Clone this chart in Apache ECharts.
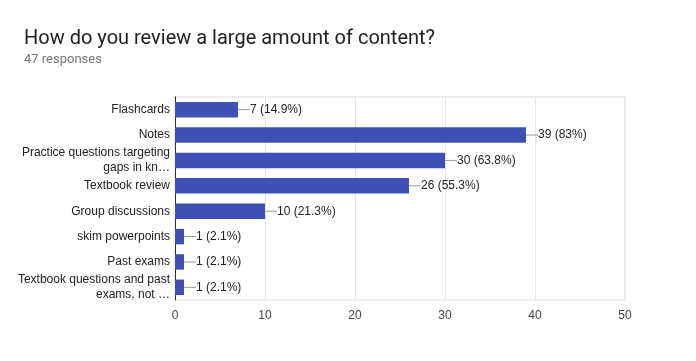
<!DOCTYPE html>
<html><head><meta charset="utf-8">
<script src="https://cdn.jsdelivr.net/npm/echarts@6/dist/echarts.min.js"></script>
<style>html,body{margin:0;padding:0;background:#fff}#c{width:696px;height:361px}</style>
</head><body><div id="c"></div>
<script>
const categories = [
  "Flashcards",
  "Notes",
  "Practice questions targeting\ngaps in kn\u2026",
  "Textbook review",
  "Group discussions",
  "skim powerpoints",
  "Past exams",
  "Textbook questions and past\nexams, not \u2026"
];
const counts = [7, 39, 30, 26, 10, 1, 1, 1];
const percents = ["14.9%", "83%", "63.8%", "55.3%", "21.3%", "2.1%", "2.1%", "2.1%"];
const xTicks = [0, 10, 20, 30, 40, 50];

const chart = echarts.init(document.getElementById('c'));
chart.setOption({
  animation: false,
  title: {
    text: 'How do you review a large amount of content?',
    subtext: '47 responses',
    left: 19, top: 24,
    itemGap: 4,
    textStyle: {fontFamily: 'Roboto', fontSize: 20, fontWeight: 'normal', color: '#212121'},
    subtextStyle: {fontFamily: 'Roboto', fontSize: 13, color: '#757575'}
  },
  grid: {left: 175, right: 71, top: 97, bottom: 61, containLabel: false,
    show: true, borderColor: '#eeeeee', borderWidth: 2},
  xAxis: {
    type: 'value', min: 0, max: 50, interval: 10,
    axisLine: {show: false}, axisTick: {show: false},
    splitLine: {lineStyle: {color: '#e6e6e6', width: 1}},
    axisLabel: {fontFamily: 'Liberation Sans', fontSize: 12, color: '#444', margin: 10,
      formatter: v => xTicks.includes(v) ? String(v) : ''}
  },
  yAxis: {
    type: 'category', data: categories, inverse: true,
    axisLine: {show: true, lineStyle: {color: '#333', width: 1}},
    axisTick: {show: false},
    axisLabel: {fontFamily: 'Liberation Sans', fontSize: 12, color: '#222', margin: 5, lineHeight: 15}
  },
  series: [{
    type: 'bar',
    data: counts,
    barWidth: '61%',
    itemStyle: {color: '#3f51b5'},
    label: {
      show: true, position: 'right', distance: 0,
      fontFamily: 'Liberation Sans', fontSize: 12, color: '#222',
      formatter: p => '{l|}{t|' + p.value + ' (' + percents[p.dataIndex] + ')}',
      rich: {
        l: {width: 12, height: 1, backgroundColor: '#999'},
        t: {fontFamily: 'Liberation Sans', fontSize: 12, color: '#222'}
      }
    }
  }]
});
</script></body></html>
